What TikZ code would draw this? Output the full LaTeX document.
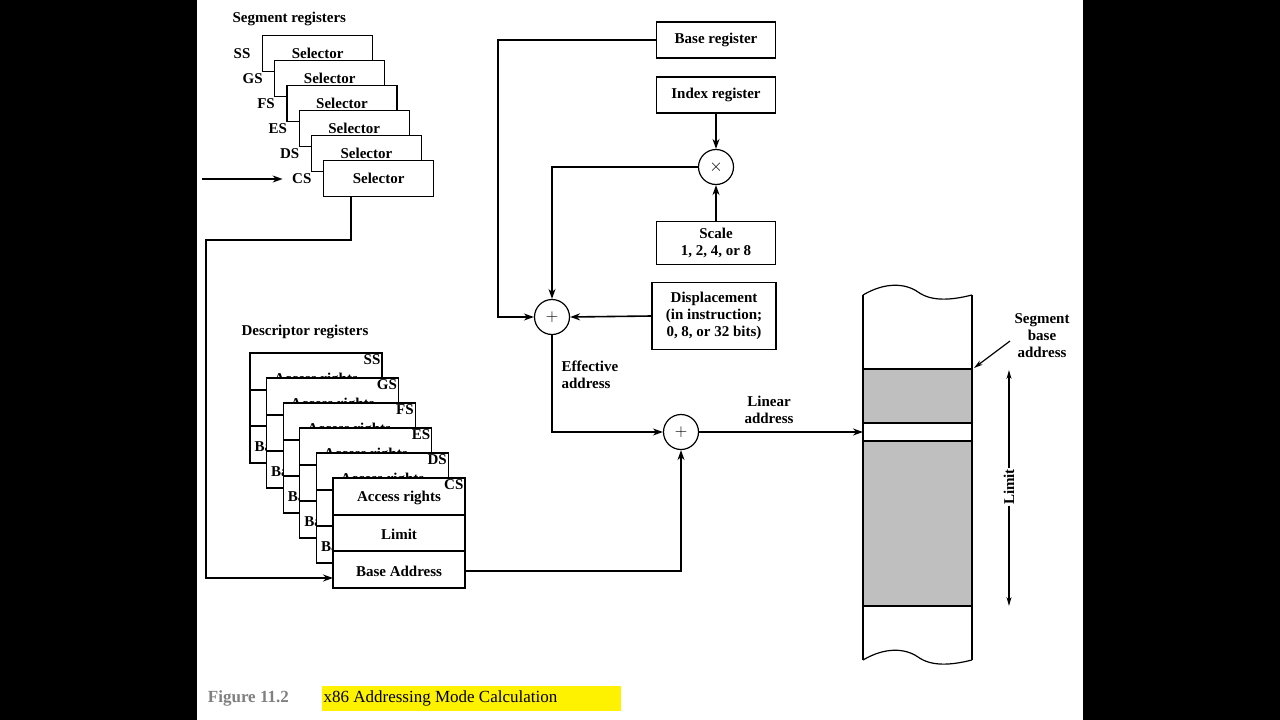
\documentclass[tikz,border=0pt]{standalone}
\usepackage{fontspec}
\setmainfont{Liberation Serif}
\usetikzlibrary{positioning,arrows.meta}
\tikzset{every picture/.style={line width=1.2pt}}
\tikzset{
reg/.style={draw, fill=white, minimum width=110, minimum height=36, inner sep=0, anchor=north west},
lbl/.style={font=\fontsize{15}{17}\selectfont\bfseries, inner sep=1pt},
op/.style={draw, circle, fill=white, minimum size=35, inner sep=0, font=\LARGE},
box/.style={draw, fill=white, minimum width=119, minimum height=36, inner sep=1pt, font=\fontsize{15}{17}\selectfont\bfseries, align=center},
arr/.style={-{Stealth[length=10pt,width=7pt]}, line width=1.6pt}
}
\begin{document}
\begin{tikzpicture}[x=1pt,y=1pt,yscale=-1,xscale=1]
    \useasboundingbox (0,0) rectangle (1280,720);
    \fill[black] (0,0) rectangle (1280,720);
    \fill[white] (197,0) rectangle (1083,720);

    % segment registers
    \node[lbl, anchor=west] at (231,19) {Segment registers};
    \foreach \s [count=\i from 0] in {SS,GS,FS,ES,DS,CS}{
        \node[reg, lbl] (sel\s) at (262+12.2*\i, 35+25*\i) {Selector};
        \node[lbl, left=10pt of sel\s.north west, yshift=-19pt, anchor=east] (name\s) {\s};
    }
    \coordinate (selout) at (351,197);

    % descriptor registers
    \node[lbl, anchor=west] at (240,332) {Descriptor registers};
    \foreach \s [count=\i from 0] in {SS,GS,FS,ES,DS}{
        \begin{scope}[shift={(250+16.6*\i, 353+25*\i)}]
            \draw[fill=white] (0,0) rectangle (132,110);
            \draw (0,37) -- (132,37) (0,73) -- (132,73);
            \node[lbl] at (66,27) {Access rights};
            \node[lbl] at (66,56) {Limit};
            \node[lbl, anchor=west] at (3,93) {Base Address};
            \node[lbl, anchor=north east] at (132,0) {\s};
        \end{scope}
    }
    \begin{scope}[shift={(333,478)}]
        \draw[fill=white] (0,0) rectangle (132,110);
        \draw (0,37) -- (132,37) (0,73) -- (132,73);
        \node[lbl] at (66,20) {Access rights};
        \node[lbl] at (66,56) {Limit};
        \node[lbl] at (66,93) {Base Address};
        \node[lbl, anchor=north east] at (132,0) {CS};
    \end{scope}
    \coordinate (baseL) at (333,578);
    \coordinate (baseR) at (465,571);

    % address calculation
    \node[box] (basereg) at (716,40) {Base register};
    \node[box] (idxreg) at (716,95) {Index register};
    \node[op] (mul) at (716,167) {$\times$};
    \node[box, minimum height=43] (scale) at (716,243) {Scale\\1, 2, 4, or 8};
    \node[box, minimum width=124, minimum height=67] (disp) at (714,316) {Displacement\\(in instruction;\\0, 8, or 32 bits)};
    \node[op] (add1) at (552,317) {$+$};
    \node[op] (add2) at (681,432) {$+$};

    % memory
    \fill[gray!50] (863,369) rectangle (972,423) (863,441) rectangle (972,606);
    \draw (863,369) -- (972,369) (863,423) -- (972,423) (863,441) -- (972,441) (863,606) -- (972,606);
    \draw (863,295) .. controls (885,282) and (905,283) .. (918,292) .. controls (932,302) and (952,300) .. (972,295);
    \draw (863,660) .. controls (885,647) and (905,648) .. (918,657) .. controls (932,667) and (952,665) .. (972,660);
    \draw (863,295) -- (863,660) (972,295) -- (972,660);
    \coordinate (memin) at (863,432);
    \coordinate (segbase) at (974,368);
    \node[lbl, align=center] (segtxt) at (1042,336) {Segment\\base\\address};
    \draw[-{Stealth[length=9pt,width=5pt]}] (1010,341) -- (segbase);
    \draw[{Stealth[length=9pt,width=5pt]}-{Stealth[length=9pt,width=5pt]}] (1009,370) -- (1009,606);
    \node[lbl, fill=white, rotate=90] at (1009,487) {Limit};

    % connectors
    \coordinate (segin) at (202,179);
    \draw[arr] (segin) -- ([xshift=-8pt]nameCS.west);
    \draw[arr] (selout) -- (351,240) -- (206,240) -- (206,578) -- (baseL);
    \draw[arr] (basereg.west) -- (498,40) -- (498,317) -- (add1.west);
    \draw[arr] (idxreg.south) -- (mul.north);
    \draw[arr] (scale.north) -- (mul.south);
    \draw[arr] (mul.west) -- (552,167) -- (add1.north);
    \draw[arr] (disp.west) -- (add1.east);
    \draw[arr] (add1.south) -- (552,432) -- (add2.west);
    \draw[arr] (baseR) -- (681,571) -- (add2.south);
    \draw[arr] (add2.east) -- (memin);
    \node[lbl, align=left, anchor=west] at (560,375) {Effective\\address};
    \node[lbl, align=center] at (769,410) {Linear\\address};

    % caption
    \fill[yellow] (322,686) rectangle (621,711);
    \node[font=\fontsize{17}{19}\selectfont\bfseries, text=gray, anchor=west] at (204,698) {Figure 11.2};
    \node[font=\fontsize{17}{19}\selectfont, anchor=west, inner sep=0] at (323,698) {x86 Addressing Mode Calculation};
\end{tikzpicture}
\end{document}
